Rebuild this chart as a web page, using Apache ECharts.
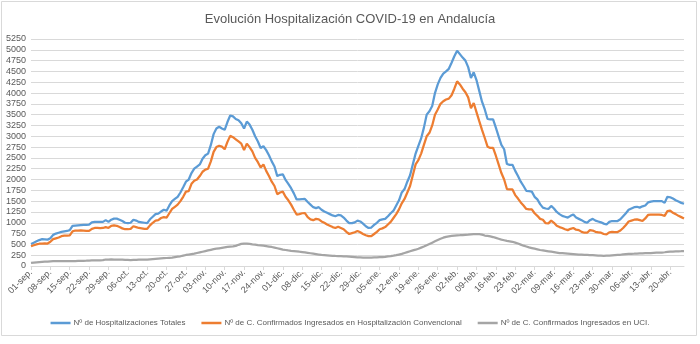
<!DOCTYPE html>
<html>
<head>
    <meta charset="utf-8">
    <title>Evolución Hospitalización COVID-19 en Andalucía</title>
    <script src="https://cdn.jsdelivr.net/npm/echarts@6/dist/echarts.min.js"></script>
    <style>
        html, body { margin: 0; padding: 0; background: #fff; }
        #chart1 { width: 700px; height: 344px; }
    </style>
</head>
<body>
<div id="chart1"></div>
<script type="text/javascript">
    // eje X: un punto por día desde el 01-sep-2020 hasta el 25-abr-2021
    var startDate = [2020, 8, 1];
    var numDays = 237;
    var monthNames = ['ene.', 'feb.', 'mar.', 'abr.', 'may.', 'jun.', 'jul.', 'ago.', 'sep.', 'oct.', 'nov.', 'dic.'];

    // Nº de Hospitalizaciones Totales
    var totales = [
        510, 540, 570, 600, 620, 615, 610, 640, 720, 750, 770, 790, 800, 810, 830,
        930, 935, 940, 945, 950, 950, 955, 1010, 1020, 1020, 1020, 1020, 1060, 1020,
        1070, 1095, 1095, 1070, 1040, 1000, 990, 1000, 1070, 1050, 1020, 1010, 1000, 990,
        1080, 1140, 1200, 1210, 1260, 1300, 1280, 1400, 1500, 1550, 1600, 1700, 1820, 1950,
        2000, 2150, 2250, 2300, 2350, 2480, 2560, 2600, 2800, 3050, 3180, 3220, 3180, 3150,
        3330, 3480, 3460, 3400, 3370, 3300, 3180, 3340, 3270, 3150, 3000, 2880, 2730, 2770,
        2680, 2560, 2420, 2300, 2080, 2110, 2120, 1990, 1900, 1800, 1680, 1540, 1540, 1545,
        1550, 1480, 1420, 1360, 1340, 1360, 1300, 1260, 1230, 1200, 1170, 1150, 1180, 1170,
        1120, 1050, 990, 990, 1010, 1050, 1030, 980, 920, 880, 890, 950, 1000, 1060,
        1080, 1090, 1150, 1220, 1280, 1400, 1520, 1700, 1780, 1950, 2100, 2350, 2600, 2780,
        2950, 3200, 3500, 3580, 3700, 4000, 4200, 4350, 4450, 4500, 4560, 4700, 4850, 4980,
        4900, 4820, 4750, 4600, 4350, 4480, 4300, 4050, 3800, 3620, 3400, 3390, 3390, 3200,
        3000, 2800, 2700, 2360, 2340, 2340, 2200, 2080, 1950, 1850, 1740, 1730, 1720,
        1600, 1540, 1430, 1350, 1330, 1320, 1390, 1330, 1250, 1200, 1160, 1140, 1120, 1160,
        1190, 1120, 1090, 1060, 1020, 1000, 1060, 1090, 1050, 1030, 1010, 980, 960, 1020,
        1040, 1040, 1040, 1080, 1150, 1220, 1300, 1330, 1360, 1370, 1350, 1380, 1400, 1470,
        1490, 1500, 1500, 1500, 1500, 1460, 1600, 1590, 1560, 1520, 1490, 1460, 1440
    ];

    // Nº de C. Confirmados Ingresados en Hospitalización Convencional
    var convencional = [
        455, 480, 500, 515, 520, 525, 520, 560, 620, 640, 660, 690, 700, 700, 710,
        800, 820, 820, 825, 820, 815, 810, 860, 880, 880, 875, 880, 900, 880,
        930, 940, 930, 900, 870, 850, 850, 860, 920, 900, 880, 870, 860, 860,
        940, 1000, 1050, 1060, 1110, 1130, 1120, 1220, 1320, 1370, 1420, 1500, 1600, 1720,
        1730, 1900, 1970, 2000, 2080, 2180, 2230, 2250, 2420, 2640, 2750, 2780, 2760, 2700,
        2870, 3010, 2980, 2930, 2880, 2830, 2680, 2830, 2750, 2650, 2500, 2400, 2280, 2350,
        2200, 2080, 1950, 1850, 1660, 1700, 1720, 1600, 1520, 1420, 1300, 1190, 1200, 1220,
        1225, 1130, 1080, 1060, 1090, 1080, 1030, 1000, 960, 930, 900, 880, 910, 880,
        850, 790, 740, 760, 780, 810, 780, 740, 710, 690, 690, 740, 790, 850,
        870, 900, 960, 1020, 1110, 1200, 1310, 1450, 1550, 1700, 1850, 2100, 2350, 2450,
        2600, 2800, 3000, 3080, 3250, 3500, 3620, 3750, 3810, 3850, 3870, 3950, 4100, 4270,
        4200, 4100, 4020, 3900, 3650, 3770, 3560, 3350, 3150, 2960, 2760, 2730, 2730, 2550,
        2350, 2150, 2000, 1780, 1770, 1770, 1640, 1560, 1470, 1400, 1320, 1310, 1310,
        1220, 1160, 1090, 1070, 990, 985, 1050, 1000, 930, 900, 880, 850, 830, 860,
        880, 840, 830, 790, 770, 770, 830, 820, 790, 780, 770, 740, 730, 780,
        790, 785, 785, 820, 880, 950, 1030, 1050, 1070, 1080, 1060, 1040, 1100, 1180,
        1190, 1190, 1190, 1190, 1180, 1160, 1270, 1280, 1230, 1200, 1160, 1130, 1100
    ];

    // Nº de C. Confirmados Ingresados en UCI.
    var uci = [
        70, 80, 85, 90, 95, 100, 100, 105, 110, 110, 110, 112, 112, 110, 112,
        115, 115, 118, 120, 120, 122, 125, 128, 130, 130, 132, 135, 150, 145,
        155, 150, 148, 150, 145, 140, 140, 135, 140, 140, 145, 148, 150, 150,
        155, 160, 165, 170, 175, 180, 185, 190, 195, 205, 215, 225, 240, 255,
        265, 275, 285, 300, 315, 330, 345, 360, 375, 390, 400, 410, 420, 430,
        440, 450, 455, 465, 490, 510, 520, 515, 510, 500, 495, 485, 478, 470,
        460, 450, 440, 425, 410, 395, 380, 370, 360, 352, 345, 338, 330, 323,
        315, 305, 295, 285, 275, 265, 255, 250, 245, 240, 235, 232, 230, 228,
        225, 220, 215, 210, 205, 200, 198, 195, 192, 192, 195, 198, 200, 205,
        207, 212, 220, 228, 238, 250, 265, 280, 300, 320, 340, 360, 377, 400,
        425, 450, 480, 510, 540, 570, 600, 630, 655, 675, 685, 695, 705, 710,
        712, 715, 720, 724, 730, 735, 738, 735, 725, 705, 695, 685, 670, 650,
        630, 610, 595, 580, 570, 560, 540, 520, 495, 470, 450, 430, 415,
        400, 385, 370, 360, 350, 340, 330, 320, 310, 300, 295, 290, 285, 280,
        275, 270, 265, 262, 258, 255, 252, 250, 245, 240, 238, 236, 238, 240,
        245, 250, 255, 260, 268, 275, 280, 283, 285, 288, 290, 292, 295, 298,
        300, 305, 308, 310, 312, 318, 325, 330, 335, 338, 340, 342, 345
    ];

    var yTicks = { min: 0, max: 5250, step: 250 };

    var days = [];
    var d0 = new Date(startDate[0], startDate[1], startDate[2]);
    for (var i = 0; i < numDays; i++) {
        var d = new Date(d0.getFullYear(), d0.getMonth(), d0.getDate() + i);
        var dd = d.getDate() < 10 ? '0' + d.getDate() : '' + d.getDate();
        days.push(dd + '-' + monthNames[d.getMonth()]);
    }

    var textColor = '#595959';
    var gridColor = '#D9D9D9';
    var fontFam = '"Liberation Sans", Arial, sans-serif';

    var myChart1 = echarts.init(document.getElementById('chart1'), null, {renderer: 'canvas'});

    myChart1.setOption({
        animation: false,
        backgroundColor: '#ffffff',
        title: {
            text: 'Evolución Hospitalización COVID-19 en Andalucía',
            left: 'center',
            top: 8,
            textStyle: {
                color: textColor,
                fontSize: 13,
                fontWeight: 'normal',
                fontFamily: fontFam
            }
        },
        graphic: [{
            type: 'rect',
            shape: {x: 1.5, y: 1.5, width: 695, height: 334},
            style: {fill: 'none', stroke: '#D9D9D9', lineWidth: 1},
            silent: true
        }],
        legend: {
            top: 314,
            left: 'center',
            icon: 'rect',
            itemWidth: 20,
            itemHeight: 2.5,
            itemGap: 16,
            textStyle: {color: textColor, fontSize: 8, fontFamily: fontFam, padding: [0, 0, 0, -2]},
            data: ['Nº de Hospitalizaciones Totales',
                'Nº de C. Confirmados Ingresados en Hospitalización Convencional',
                'Nº de C. Confirmados Ingresados en UCI.']
        },
        grid: {
            left: 31,
            right: 16,
            top: 39,
            bottom: 78
        },
        xAxis: {
            type: 'category',
            boundaryGap: false,
            data: days,
            axisLine: {lineStyle: {color: gridColor}},
            axisTick: {
                show: true,
                interval: 6,
                length: 4,
                lineStyle: {color: gridColor}
            },
            axisLabel: {
                interval: 6,
                rotate: 45,
                color: textColor,
                fontSize: 9,
                fontFamily: fontFam,
                margin: 5
            },
            splitLine: {show: false}
        },
        yAxis: {
            type: 'value',
            min: yTicks.min,
            max: yTicks.max,
            interval: yTicks.step,
            axisLine: {show: false},
            axisTick: {show: false},
            axisLabel: {
                color: textColor,
                fontSize: 9,
                fontFamily: fontFam,
                margin: 5,
                formatter: function (v) { return String(v); }
            },
            splitLine: {lineStyle: {color: gridColor, width: 1}}
        },
        series: [{
            name: 'Nº de Hospitalizaciones Totales',
            type: 'line',
            data: totales,
            symbol: 'none',
            lineStyle: {color: '#5B9BD5', width: 2.25},
            itemStyle: {color: '#5B9BD5'}
        }, {
            name: 'Nº de C. Confirmados Ingresados en Hospitalización Convencional',
            type: 'line',
            data: convencional,
            symbol: 'none',
            lineStyle: {color: '#ED7D31', width: 2.25},
            itemStyle: {color: '#ED7D31'}
        }, {
            name: 'Nº de C. Confirmados Ingresados en UCI.',
            type: 'line',
            data: uci,
            symbol: 'none',
            lineStyle: {color: '#A5A5A5', width: 2.25},
            itemStyle: {color: '#A5A5A5'}
        }]
    });
</script>
</body>
</html>
